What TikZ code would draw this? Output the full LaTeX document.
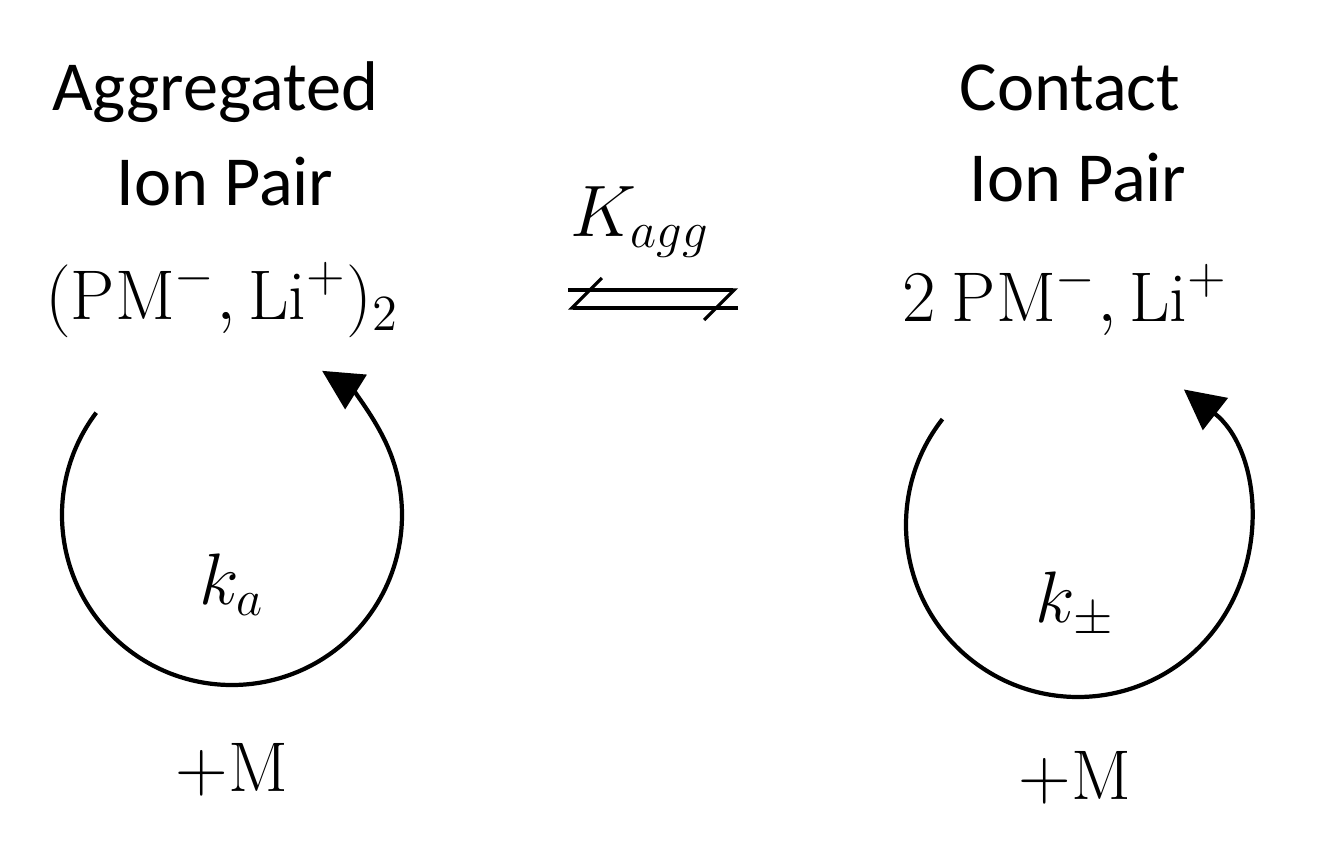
\documentclass[tikz,border=0pt]{standalone}
\usepackage{fontspec}
\setmainfont{Carlito}
\setmathrm{Latin Modern Roman}
\usetikzlibrary{arrows, arrows.meta}
\usetikzlibrary{positioning}
\tikzset{
  txt/.style={font=\fontsize{20}{24}\selectfont, inner sep=0pt},
  cycle/.style={line width=1.2pt, -{Triangle[length=4mm, width=4mm]}},
  harpoon/.style={line width=0.9pt, -{Straight Barb[right, length=3mm]}}
}
\begin{document}
\begin{tikzpicture}[x=0.01cm, y=-0.01cm]
\useasboundingbox (0,0) rectangle (1333,846);

% Aggregated side
\node [txt] (aggname) at (215,92) {Aggregated};
\node [txt] (aggion) at (225,182) {Ion Pair};
\node [txt] (aggform) at (222,300) {$(\mathrm{PM}^{-},\mathrm{Li}^{+})_{2}$};
\node [txt] (ka) at (232,585) {$k_{a}$};
\node [txt] (aggm) at (232,770) {$+\mathrm{M}$};

% Contact side
\node [txt] (conname) at (1070,88) {Contact};
\node [txt] (conion) at (1078,178) {Ion Pair};
\node [txt] (conform) at (1065,300) {$2\ \mathrm{PM}^{-},\mathrm{Li}^{+}$};
\node [txt] (kpm) at (1075,605) {$k_{\pm}$};
\node [txt] (conm) at (1075,778) {$+\mathrm{M}$};

% Equilibrium
\node [txt] (kagg) at (640,222) {$K_{agg}$};
\coordinate (fwdstart) at (568,290);
\coordinate (fwdend) at (738,290);
\coordinate (revstart) at (738,308);
\coordinate (revend) at (568,308);
\draw[harpoon] (fwdstart) -- (fwdend);
\draw[harpoon] (revstart) -- (revend);

% Cycles
\draw[cycle] (232,515) ++(-143:170) arc[start angle=-143, end angle=-418, radius=170];
\draw[cycle] (1078,525) ++(-142:172) arc[start angle=-142, end angle=-412, radius=172];

\end{tikzpicture}
\end{document}
